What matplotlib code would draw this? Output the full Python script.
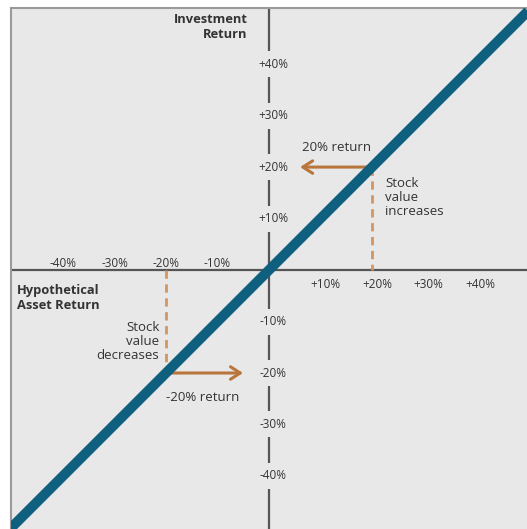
import matplotlib.pyplot as plt

plt.rcParams['font.family'] = ['Open Sans', 'DejaVu Sans']

# valores de las marcas de los ejes (en %)
x_ticks = [-40, -30, -20, -10, 10, 20, 30, 40]
y_ticks = [40, 30, 20, 10, -10, -20, -30, -40]
x_labels = ['-40%', '-30%', '-20%', '-10%', '+10%', '+20%', '+30%', '+40%']
y_labels = ['+40%', '+30%', '+20%', '+10%', '-10%', '-20%', '-30%', '-40%']

# rendimiento del activo contra rendimiento de la inversion (1 a 1)
asset_return = [-60, 60]
investment_return = [-60, 60]

# ejemplos de +20% y -20%
example_up = 20
example_down = -20

bg = '#e8e8e8'
teal = '#0f5f7e'
orange = '#b8763d'
dash_orange = '#d49660'
grey = '#333333'

fig = plt.figure(figsize=(5.27, 5.29), dpi=100)
ax = fig.add_axes([11 / 527, 0, 516 / 527, 521 / 529])
ax.set_facecolor(bg)
ax.set_xlim(-50.1, 50.1)
ax.set_ylim(-50.3, 50.9)
ax.set_xticks([])
ax.set_yticks([])
for s in ['right', 'bottom']:
    ax.spines[s].set_visible(False)
for s in ['left', 'top']:
    ax.spines[s].set_color('#9a9a9a')
    ax.spines[s].set_linewidth(1.5)

# ejes
ax.axhline(0, color='#555555', lw=1.6, zorder=2)
ax.axvline(0, color='#555555', lw=1.6, zorder=2)

# etiquetas del eje x
for v, lab in zip(x_ticks, x_labels):
    if v < 0:
        ax.text(v, 1.3, lab, ha='center', va='center', fontsize=8.5, color=grey, zorder=3)
    else:
        ax.text(v + 1, -2.9, lab, ha='center', va='center', fontsize=8.5, color=grey, zorder=3)

# etiquetas del eje y, con hueco sobre la linea
for v, lab in zip(y_ticks, y_labels):
    ax.text(0.8, v, lab, ha='center', va='center', fontsize=8.5, color=grey, zorder=3,
            bbox=dict(boxstyle='square,pad=0.55', fc=bg, ec='none'))

# lineas punteadas
ax.plot([example_up, example_up], [example_up, 0], color=dash_orange, lw=2,
        dashes=(3, 2), zorder=2)
ax.plot([example_down, example_down], [0, example_down], color=dash_orange, lw=2,
        dashes=(3, 2), zorder=2)

# flechas
ax.annotate('', xy=(5.5, example_up), xytext=(example_up, example_up),
            arrowprops=dict(arrowstyle='->,head_length=0.7,head_width=0.45',
                            color=orange, lw=2.2), zorder=4)
ax.annotate('', xy=(-4.5, example_down), xytext=(example_down, example_down),
            arrowprops=dict(arrowstyle='->,head_length=0.7,head_width=0.45',
                            color=orange, lw=2.2), zorder=4)

# linea diagonal
ax.plot(asset_return, investment_return, color=teal, lw=7.2, zorder=5,
        solid_capstyle='butt')

# textos
ax.text(-4.2, 50.0, 'Investment\nReturn', ha='right', va='top', fontsize=9.3,
        fontweight='bold', color=grey, linespacing=1.2)
ax.text(-48.9, -2.8, 'Hypothetical\nAsset Return', ha='left', va='top', fontsize=9.3,
        fontweight='bold', color=grey, linespacing=1.2)
ax.text(13.2, 23.9, '20% return', ha='center', va='center', fontsize=9.5, color=grey)
ax.text(-12.8, -24.8, '-20% return', ha='center', va='center', fontsize=9.5, color=grey)
ax.text(22.6, 18.0, 'Stock\nvalue\nincreases', ha='left', va='top', fontsize=9.5,
        color=grey, linespacing=1.1)
ax.text(-21.3, -9.9, 'Stock\nvalue\ndecreases', ha='right', va='top', fontsize=9.5,
        color=grey, linespacing=1.1)

plt.savefig('out.png', dpi=100, facecolor='white')
